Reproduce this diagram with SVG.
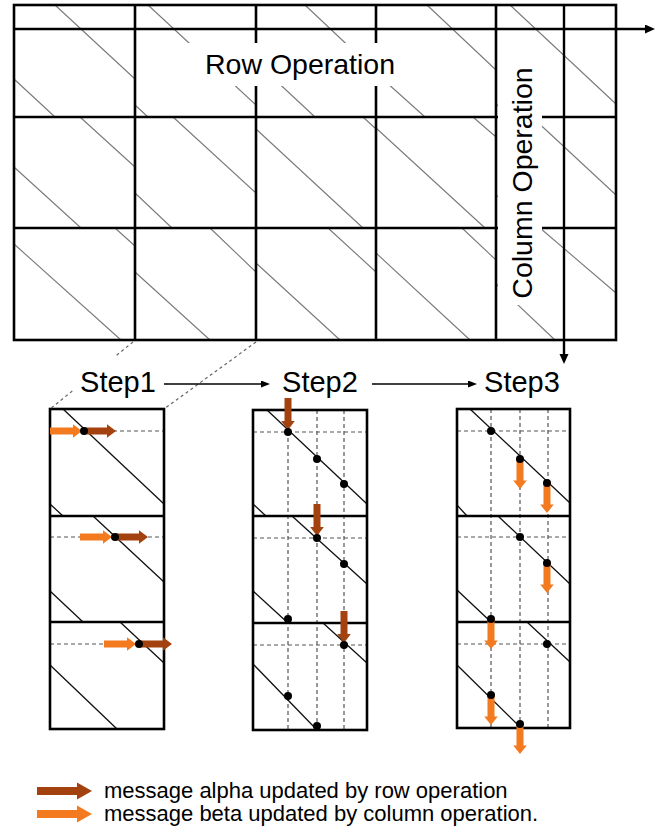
<svg xmlns="http://www.w3.org/2000/svg" width="667" height="829" viewBox="0 0 667 829">
  <defs>
    <style>
      .frame { fill: none; stroke: #000; stroke-width: 2.6; }
      .hatch { fill: none; stroke: #7a7a7a; stroke-width: 1.1; }
      .diag { fill: none; stroke: #111; stroke-width: 1.3; }
      .guide { fill: none; stroke: #555; stroke-width: 1.2; stroke-dasharray: 4 3; }
      .link { fill: none; stroke: #666; stroke-width: 1.2; stroke-dasharray: 3 3; }
      .flow { fill: none; stroke: #000; stroke-width: 1.6; }
      .mask { fill: #fff; stroke: none; }
      .dot { fill: #000; }
      .alpha { fill: #a3410f; }
      .beta { fill: #f47a1f; }
      .big { font-family: "Liberation Sans", Arial, sans-serif; font-size: 28.5px; fill: #000; }
      .step { font-family: "Liberation Sans", Arial, sans-serif; font-size: 29px; fill: #000; text-anchor: middle; }
      .legend { font-family: "Liberation Sans", Arial, sans-serif; font-size: 22px; fill: #000; }
    </style>
    <marker id="bigHead" markerUnits="userSpaceOnUse" markerWidth="11" markerHeight="10" refX="0" refY="4.5" orient="auto">
      <path d="M0,0 L10,4.5 L0,9 Z" fill="#000"/>
    </marker>
    <marker id="smallHead" markerUnits="userSpaceOnUse" markerWidth="10" markerHeight="8" refX="0" refY="3.5" orient="auto">
      <path d="M0,0 L9,3.5 L0,7 Z" fill="#000"/>
    </marker>
    <!-- block arrow, 32 long, pointing along +x from the origin -->
    <path id="blockArrow" d="M0,-3.5 H23 V-6.8 L32,0 L23,6.8 V3.5 H0 Z"/>
  </defs>

  <rect width="667" height="829" fill="#fff"/>

  <!-- large matrix: 5 x 3 blocks with circulant diagonals -->
  <g id="matrix">
    <path class="hatch" d="M55,5 L135,79 M14,79 L55,117
      M148,5 L256,105 M135,105 L148,117
      M305,5 L376,72 M256,62 L315,117
      M427,5 L496,70 M376,73 L425,117
      M510,5 L616,104 M496,104 L510,117
      M80,117 L135,167 M14,167 L81,228
      M173,117 L256,193 M135,193 L172,228
      M363,117 L376,129 M256,129 L363,228
      M473,117 L496,137 M376,128 L485,228
      M532,117 L616,195 M496,195 L532,228
      M115,228 L135,246 M14,244 L121,340
      M210,228 L256,272 M135,272 L210,340
      M328,228 L376,272 M256,263 L340,340
      M462,228 L496,260 M376,253 L470,340
      M540,228 L616,293 M496,284 L555,340"/>
    <rect class="frame" x="14" y="5" width="602" height="335"/>
    <path class="frame" d="M135,5 V340 M256,5 V340 M376,5 V340 M496,5 V340 M14,117 H616 M14,228 H616"/>
  </g>

  <g id="row-operation">
    <rect class="mask" x="185" y="43" width="217" height="43"/>
    <text class="big" x="300" y="74" text-anchor="middle">Row Operation</text>
  </g>

  <g id="column-operation">
    <rect class="mask" x="498" y="62" width="44" height="243"/>
    <text class="big" transform="translate(532,183) rotate(-90)" text-anchor="middle">Column Operation</text>
  </g>

  <!-- step 1 panel: row-wise updates -->
  <g id="step1-panel">
    <path class="guide" d="M50,431 H164 M50,537 H164 M50,644 H164"/>
    <path class="diag" d="M63,409 L164,504 M50,504 L63,516
      M93,516 L164,582 M50,591 L83,622
      M120,622 L164,663 M50,665 L117,729"/>
    <rect class="frame" x="50" y="409" width="114" height="320"/>
    <path class="frame" d="M50,516 H164 M50,622 H164"/>
    <use href="#blockArrow" class="beta" transform="translate(50,431)"/>
    <use href="#blockArrow" class="alpha" transform="translate(84,431)"/>
    <use href="#blockArrow" class="beta" transform="translate(80,537)"/>
    <use href="#blockArrow" class="alpha" transform="translate(116,537)"/>
    <use href="#blockArrow" class="beta" transform="translate(104,644)"/>
    <use href="#blockArrow" class="alpha" transform="translate(140,644)"/>
    <circle class="dot" cx="84" cy="431" r="4"/>
    <circle class="dot" cx="115" cy="537" r="4"/>
    <circle class="dot" cx="139" cy="644" r="4"/>
  </g>

  <!-- step 2 panel -->
  <g id="step2-panel">
    <path class="guide" d="M288,410 V730 M317,410 V730 M344,410 V730 M253,432 H367 M253,538 H367 M253,645 H367"/>
    <path class="diag" d="M267,410 L367,504 M253,504 L266,516
      M292,516 L367,584 M253,591 L288,623
      M323,623 L367,663 M253,664 L317,730"/>
    <rect class="frame" x="253" y="410" width="114" height="320"/>
    <path class="frame" d="M253,516 H367 M253,623 H367"/>
    <use href="#blockArrow" class="alpha" transform="translate(288,398) rotate(90)"/>
    <use href="#blockArrow" class="alpha" transform="translate(317,504) rotate(90)"/>
    <use href="#blockArrow" class="alpha" transform="translate(344,611) rotate(90)"/>
    <circle class="dot" cx="288" cy="432" r="4"/>
    <circle class="dot" cx="317" cy="459" r="4"/>
    <circle class="dot" cx="344" cy="484" r="4"/>
    <circle class="dot" cx="317" cy="538" r="4"/>
    <circle class="dot" cx="344" cy="564" r="4"/>
    <circle class="dot" cx="288" cy="619" r="4"/>
    <circle class="dot" cx="344" cy="645" r="4"/>
    <circle class="dot" cx="288" cy="696" r="4"/>
    <circle class="dot" cx="317" cy="726" r="4"/>
  </g>

  <!-- step 3 panel: column-wise updates -->
  <g id="step3-panel">
    <path class="guide" d="M491,409 V728 M520,409 V728 M548,409 V728 M457,431 H570 M457,537 H570 M457,644 H570"/>
    <path class="diag" d="M470,409 L570,503 M457,505 L467,516
      M498,516 L570,584 M457,590 L491,622
      M527,622 L570,662 M457,665 L521,728"/>
    <rect class="frame" x="457" y="409" width="113" height="319"/>
    <path class="frame" d="M457,516 H570 M457,622 H570"/>
    <use href="#blockArrow" class="beta" transform="translate(520,459) rotate(90) scale(0.94,1)"/>
    <use href="#blockArrow" class="beta" transform="translate(547,483) rotate(90) scale(0.94,1)"/>
    <use href="#blockArrow" class="beta" transform="translate(547,563) rotate(90) scale(0.94,1)"/>
    <use href="#blockArrow" class="beta" transform="translate(491,619) rotate(90) scale(0.94,1)"/>
    <use href="#blockArrow" class="beta" transform="translate(491,695) rotate(90) scale(0.94,1)"/>
    <use href="#blockArrow" class="beta" transform="translate(520,724) rotate(90) scale(0.94,1)"/>
    <circle class="dot" cx="491" cy="431" r="4"/>
    <circle class="dot" cx="520" cy="459" r="4"/>
    <circle class="dot" cx="547" cy="483" r="4"/>
    <circle class="dot" cx="520" cy="537" r="4"/>
    <circle class="dot" cx="547" cy="563" r="4"/>
    <circle class="dot" cx="491" cy="619" r="4"/>
    <circle class="dot" cx="547" cy="644" r="4"/>
    <circle class="dot" cx="491" cy="695" r="4"/>
    <circle class="dot" cx="520" cy="724" r="4"/>
  </g>

  <g id="connectors">
    <!-- zoom guides from one matrix block down to the step panels -->
    <path class="link" d="M133,342 L50,409 M256,342 L164,409"/>
    <!-- row and column operation directions -->
    <path class="flow" style="stroke-width:2.4" d="M14,29 H645" marker-end="url(#bigHead)"/>
    <path class="flow" style="stroke-width:2.4" d="M564,5 V354" marker-end="url(#bigHead)"/>
    <!-- step sequence -->
    <path class="flow" d="M158,384 H261" marker-end="url(#smallHead)"/>
    <path class="flow" d="M372,384 H468" marker-end="url(#smallHead)"/>
  </g>

  <g id="step-labels">
    <rect class="mask" x="64" y="356" width="100" height="34"/>
    <text class="step" x="118" y="392">Step1</text>
    <text class="step" x="320" y="392">Step2</text>
    <text class="step" x="522" y="392">Step3</text>
  </g>

  <g id="legend">
    <path class="alpha" d="M37,787 H77 V782.5 L92,791 L77,799.5 V795 H37 Z"/>
    <path class="beta" d="M37,810 H77 V805.5 L92,814 L77,822.5 V818 H37 Z"/>
    <text class="legend" x="104" y="798">message alpha updated by row operation</text>
    <text class="legend" x="104" y="821">message beta updated by column operation.</text>
  </g>
</svg>
